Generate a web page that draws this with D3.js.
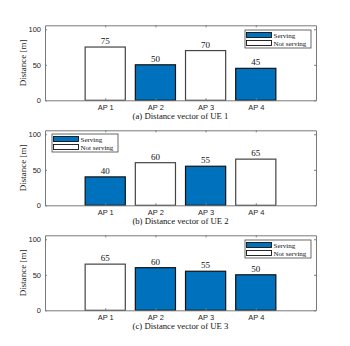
<!DOCTYPE html>
<html>
<head>
<meta charset="utf-8">
<script src="https://cdn.jsdelivr.net/npm/d3@7"></script>
<style>
  body { margin: 0; background: #fff; }
  .tick text { font-family: "Liberation Sans", Arial, sans-serif; fill: #262626; }
</style>
</head>
<body>
<div id="chart"></div>
<script>
// categories and values for each UE
var aps = ["AP 1", "AP 2", "AP 3", "AP 4"];
var ue1 = [75, 50, 70, 45];
var ue2 = [40, 60, 55, 65];
var ue3 = [65, 60, 55, 50];
// serving flags (1 = serving)
var serve1 = [0, 1, 0, 1];
var serve2 = [1, 0, 1, 0];
var serve3 = [0, 1, 1, 1];
var captions = ["(a) Distance vector of UE 1", "(b) Distance vector of UE 2", "(c) Distance vector of UE 3"];
var legendSide = ["right", "left", "right"];
var yTicks = [0, 50, 100];

var svgWidth = 350, svgHeight = 346;
var blue = "#0072BD";
var serif = "'Liberation Serif', 'DejaVu Serif', serif";

var svg = d3.select("#chart").append("svg")
  .attr("width", svgWidth)
  .attr("height", svgHeight);

var left = 45, right = 316, plotH = 75;
var tops = [25.3, 130.3, 235.3];

var xScale = d3.scaleLinear().domain([-0.2, 5.2]).range([left, right]);
var yScale = d3.scaleLinear().domain([0, 105.6]).range([plotH, 0]);

var panels = [
  { values: ue1, serve: serve1 },
  { values: ue2, serve: serve2 },
  { values: ue3, serve: serve3 }
];

panels.forEach(function(p, i) {
  var g = svg.append("g").attr("transform", `translate(0, ${tops[i]})`);
  var data = aps.map(function(a, j) { return { ap: a, pos: j + 1, v: p.values[j], s: p.serve[j] }; });
  var barW = xScale(0.8) - xScale(0);

  // bars
  g.selectAll("rect.bar")
    .data(data)
    .enter()
    .append("rect")
    .attr("class", "bar")
    .attr("x", d => xScale(d.pos) - barW / 2)
    .attr("y", d => yScale(d.v))
    .attr("width", barW)
    .attr("height", d => plotH - yScale(d.v))
    .attr("fill", d => d.s ? blue : "#fff")
    .attr("stroke", d => d.s ? "#111" : "#444")
    .attr("stroke-width", 1.2);

  // value labels
  g.selectAll("text.val")
    .data(data)
    .enter()
    .append("text")
    .attr("class", "val")
    .attr("x", d => xScale(d.pos))
    .attr("y", d => yScale(d.v) - 3)
    .attr("text-anchor", "middle")
    .style("font-family", serif)
    .style("font-size", "9px")
    .attr("fill", "#111")
    .text(d => d.v);

  // axes (ticks point inward, box on)
  var xAxis = d3.axisBottom(xScale).tickValues([1, 2, 3, 4])
    .tickFormat(d => aps[d - 1]).tickSizeInner(-2).tickSizeOuter(0).tickPadding(4);
  var yAxis = d3.axisLeft(yScale).tickValues(yTicks)
    .tickSizeInner(-2).tickSizeOuter(0).tickPadding(4);

  var gx = g.append("g").attr("transform", `translate(0, ${plotH})`).call(xAxis);
  var gy = g.append("g").attr("transform", `translate(${left}, 0)`).call(yAxis);
  var gxt = g.append("g").call(d3.axisTop(xScale).tickValues([1, 2, 3, 4]).tickFormat("").tickSizeInner(-2).tickSizeOuter(0));
  var gyr = g.append("g").attr("transform", `translate(${right}, 0)`)
    .call(d3.axisRight(yScale).tickValues(yTicks).tickFormat("").tickSizeInner(-2).tickSizeOuter(0));

  [gx, gy, gxt, gyr].forEach(function(a) {
    a.select(".domain").attr("stroke", "#7a7a7a");
    a.selectAll(".tick line").attr("stroke", "#7a7a7a");
    a.selectAll(".tick text").style("font-size", "7.5px");
  });

  // y label
  g.append("text")
    .attr("transform", "rotate(-90)")
    .attr("x", 0 - plotH / 2)
    .attr("y", 25.5)
    .attr("text-anchor", "middle")
    .style("font-family", serif)
    .style("font-size", "9px")
    .attr("fill", "#262626")
    .text("Distance [m]");

  // caption
  g.append("text")
    .attr("x", (left + right) / 2)
    .attr("y", plotH + 19)
    .attr("text-anchor", "middle")
    .style("font-family", serif)
    .style("font-size", "8.7px")
    .attr("fill", "#111")
    .text(captions[i]);

  // legend
  var lx = legendSide[i] === "right" ? 245 : 52;
  var ly = legendSide[i] === "right" ? 4.7 : 3.7;
  var lg = g.append("g").attr("transform", `translate(${lx}, ${ly})`);
  lg.append("rect")
    .attr("width", 66)
    .attr("height", 18)
    .attr("fill", "#fff")
    .attr("stroke", "#444")
    .attr("stroke-width", 0.8);
  var items = [["Serving", blue], ["Not serving", "#fff"]];
  items.forEach(function(it, k) {
    lg.append("rect")
      .attr("x", 1.5)
      .attr("y", 2.5 + k * 8)
      .attr("width", 25)
      .attr("height", 5)
      .attr("fill", it[1])
      .attr("stroke", "#111")
      .attr("stroke-width", 0.9);
    lg.append("text")
      .attr("x", 28.5)
      .attr("y", 7.5 + k * 8)
      .style("font-family", serif)
      .style("font-size", "7px")
      .attr("fill", "#111")
      .text(it[0]);
  });
});
</script>
</body>
</html>
